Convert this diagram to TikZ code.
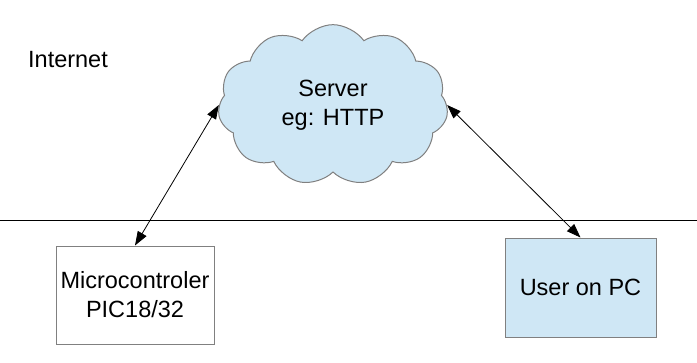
\documentclass[tikz,border=0pt]{standalone}
\usepackage{fontspec}
\setmainfont{Liberation Sans}
\usepackage{tikz}
\usetikzlibrary{arrows.meta,positioning,shapes.symbols}
\definecolor{skyx}{HTML}{CFE7F5}
\definecolor{edgex}{HTML}{808080}
\tikzset{
  lbl/.style={font=\fontsize{23.5}{29}\selectfont,align=center,inner sep=0pt},
  cloudy/.style={cloud,cloud puffs=11,cloud puff arc=110,draw=edgex,fill=skyx,line width=1pt,minimum width=230pt,minimum height=153pt,lbl},
  boxx/.style={draw=edgex,line width=1pt,lbl},
  dbl/.style={{Triangle[length=14pt,width=10pt]}-{Triangle[length=14pt,width=10pt]},line width=0.8pt,black}
}
\begin{document}
\begin{tikzpicture}[x=1pt,y=-1pt]
\useasboundingbox (0,0) rectangle (697,362);
\coordinate (wl) at (0,220);
\coordinate (wr) at (697,220);
\draw[line width=1pt] (wl)--(wr);
\node[lbl] (net) at (68,60) {Internet};
\node[cloudy] (srv) at (333,105) {Server\\eg: HTTP};
\node[boxx,fill=white,minimum width=158pt,minimum height=98pt] (mcu) at (135,295) {Microcontroler\\PIC18/32};
\node[boxx,fill=skyx,minimum width=151pt,minimum height=99pt] (usr) at (580.5,287.5) {User on PC};
\draw[dbl] (srv.west)--(mcu.north);
\draw[dbl] (srv.east)--(usr.north);
\end{tikzpicture}
\end{document}
